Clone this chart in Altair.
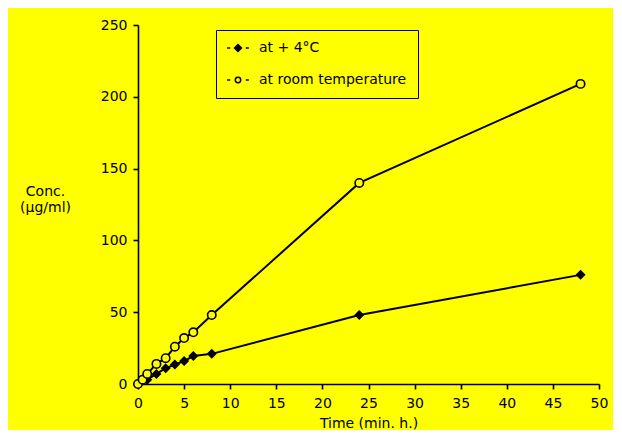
import altair as alt
import pandas as pd

cold_label = "at + 4°C"
warm_label = "at room temperature"

cold_time = [0, 1, 2, 3, 4, 5, 6, 8, 24, 48]
cold_conc = [0, 3, 7, 11, 13.5, 16, 19.5, 21, 48, 76]

warm_time = [0, 0.5, 1, 2, 3, 4, 5, 6, 8, 24, 48]
warm_conc = [0, 3, 7, 14, 18, 26, 32, 36, 48, 140, 209]

x_ticks = [0, 5, 10, 15, 20, 25, 30, 35, 40, 45, 50]
y_ticks = [0, 50, 100, 150, 200, 250]

cold_df = pd.DataFrame({"time": cold_time, "conc": cold_conc, "series": cold_label})
warm_df = pd.DataFrame({"time": warm_time, "conc": warm_conc, "series": warm_label})
df = pd.concat([cold_df, warm_df])

FONT = "DejaVu Sans"
YELLOW = "#FFFF00"

x = alt.X("time:Q", scale=alt.Scale(domain=[0, 50], nice=False),
          axis=alt.Axis(values=x_ticks, title="Time (min. h.)", grid=False,
                        labelFlush=False, labelPadding=7, titlePadding=6))
y = alt.Y("conc:Q", scale=alt.Scale(domain=[0, 250], nice=False),
          axis=alt.Axis(values=y_ticks, title=["Conc.", "(µg/ml)"], grid=False,
                        titleAngle=0, titleAlign="center", titleBaseline="top",
                        titleX=-93, titleY=159, titleFontWeight="normal",
                        labelPadding=6))

diamond_path = "M-2.8,0L-2.0,0M2.0,0L2.8,0M0,-0.9L0.9,0L0,0.9L-0.9,0Z"
circle_path = ("M-2.8,0L-2.0,0M2.0,0L2.8,0M0.7,0A0.7,0.7 0 1,1 -0.7,0"
               "A0.7,0.7 0 1,1 0.7,0Z")

domain = [cold_label, warm_label]
leg = alt.Legend(
    title=None, orient="none", legendX=78, legendY=5,
    fillColor=YELLOW, strokeColor="black", padding=11,
    rowPadding=18, labelFontSize=14, labelFont=FONT, labelColor="black",
    symbolSize=60, labelOffset=14, symbolOffset=4,
    symbolStrokeWidth=1.5, symbolOpacity=1)

lines = alt.Chart(df).mark_line(color="black", strokeWidth=2).encode(
    x=x, y=y, detail="series:N")

cold_pts = alt.Chart(cold_df).mark_point(
    shape="diamond", filled=True, color="black", size=100, opacity=1).encode(x=x, y=y)
warm_pts = alt.Chart(warm_df).mark_point(
    shape="circle", fill=YELLOW, stroke="black", strokeWidth=1.6, size=70,
    opacity=1).encode(x=x, y=y)

legend_layer = alt.Chart(df).transform_filter("false").mark_point(
    strokeWidth=1.5, size=60, opacity=1).encode(
    x=x, y=y,
    shape=alt.Shape("series:N", scale=alt.Scale(domain=domain,
                    range=[diamond_path, circle_path]), legend=leg),
    fill=alt.Fill("series:N", scale=alt.Scale(domain=domain,
                  range=["black", YELLOW]), legend=leg),
    stroke=alt.Stroke("series:N", scale=alt.Scale(domain=domain,
                      range=["black", "black"]), legend=leg),
)

chart = (lines + cold_pts + warm_pts + legend_layer).properties(
    width=461, height=359,
    background=YELLOW,
    padding={"left": 11, "top": 10, "right": 5, "bottom": 0},
).configure_view(stroke=None).configure_axis(
    domainColor="black", domainWidth=1.6, tickColor="black", tickWidth=1.6,
    tickSize=5, labelFont=FONT, labelFontSize=14, labelColor="black",
    titleFont=FONT, titleFontSize=14, titleColor="black", titleFontWeight="normal",
)

chart.save("out.html", embed_options={"renderer": "svg", "actions": False})
